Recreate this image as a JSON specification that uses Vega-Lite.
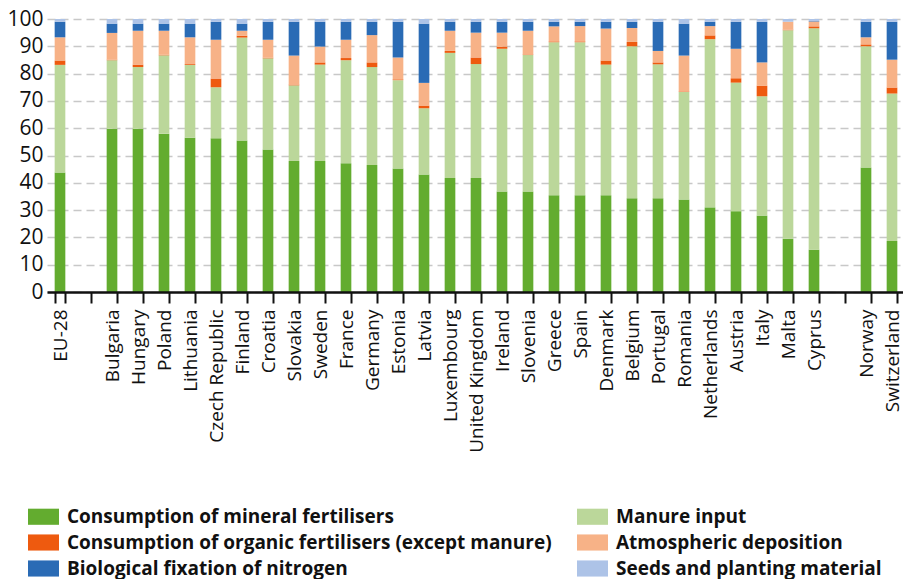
{
  "$schema": "https://vega.github.io/schema/vega-lite/v6.json",
  "autosize": "none",
  "padding": {"left": 47, "top": 19, "right": 0, "bottom": 287},
  "width": 858,
  "height": 273,
  "background": "white",
  "config": {
    "view": {"stroke": null},
    "font": "Open Sans"
  },
  "data": {
    "values": [
      {"c": "EU-28", "a_min": 43.8, "b_man": 39.4, "c_org": 1.6, "d_atm": 8.5, "e_bio": 5.7, "f_seed": 1.0},
      {"c": "Bulgaria", "a_min": 59.8, "b_man": 25.1, "c_org": 0.2, "d_atm": 9.8, "e_bio": 3.4, "f_seed": 1.7},
      {"c": "Hungary", "a_min": 59.8, "b_man": 22.6, "c_org": 0.9, "d_atm": 12.4, "e_bio": 2.6, "f_seed": 1.7},
      {"c": "Poland", "a_min": 58.0, "b_man": 28.7, "c_org": 0.2, "d_atm": 8.8, "e_bio": 2.6, "f_seed": 1.7},
      {"c": "Lithuania", "a_min": 56.5, "b_man": 26.7, "c_org": 0.3, "d_atm": 9.8, "e_bio": 5.0, "f_seed": 1.7},
      {"c": "Czech Republic", "a_min": 56.3, "b_man": 18.7, "c_org": 3.2, "d_atm": 14.2, "e_bio": 6.6, "f_seed": 1.0},
      {"c": "Finland", "a_min": 55.5, "b_man": 37.7, "c_org": 0.7, "d_atm": 1.8, "e_bio": 2.6, "f_seed": 1.7},
      {"c": "Croatia", "a_min": 52.2, "b_man": 33.4, "c_org": 0.2, "d_atm": 6.6, "e_bio": 6.6, "f_seed": 1.0},
      {"c": "Slovakia", "a_min": 48.0, "b_man": 27.7, "c_org": 0.3, "d_atm": 10.6, "e_bio": 12.4, "f_seed": 1.0},
      {"c": "Sweden", "a_min": 48.0, "b_man": 35.3, "c_org": 0.8, "d_atm": 5.8, "e_bio": 9.1, "f_seed": 1.0},
      {"c": "France", "a_min": 47.2, "b_man": 37.7, "c_org": 0.8, "d_atm": 6.7, "e_bio": 6.6, "f_seed": 1.0},
      {"c": "Germany", "a_min": 46.5, "b_man": 35.9, "c_org": 1.7, "d_atm": 10.0, "e_bio": 4.9, "f_seed": 1.0},
      {"c": "Estonia", "a_min": 45.2, "b_man": 32.4, "c_org": 0.3, "d_atm": 8.0, "e_bio": 13.1, "f_seed": 1.0},
      {"c": "Latvia", "a_min": 43.0, "b_man": 24.3, "c_org": 1.0, "d_atm": 8.3, "e_bio": 21.7, "f_seed": 1.7},
      {"c": "Luxembourg", "a_min": 41.8, "b_man": 45.8, "c_org": 0.7, "d_atm": 7.4, "e_bio": 3.3, "f_seed": 1.0},
      {"c": "United Kingdom", "a_min": 41.8, "b_man": 41.7, "c_org": 2.4, "d_atm": 9.1, "e_bio": 4.0, "f_seed": 1.0},
      {"c": "Ireland", "a_min": 36.8, "b_man": 52.3, "c_org": 0.8, "d_atm": 5.1, "e_bio": 4.0, "f_seed": 1.0},
      {"c": "Slovenia", "a_min": 36.8, "b_man": 50.0, "c_org": 0.2, "d_atm": 8.7, "e_bio": 3.3, "f_seed": 1.0},
      {"c": "Greece", "a_min": 35.4, "b_man": 56.1, "c_org": 0.3, "d_atm": 5.5, "e_bio": 1.7, "f_seed": 1.0},
      {"c": "Spain", "a_min": 35.4, "b_man": 56.1, "c_org": 0.3, "d_atm": 5.6, "e_bio": 1.6, "f_seed": 1.0},
      {"c": "Denmark", "a_min": 35.4, "b_man": 47.9, "c_org": 1.5, "d_atm": 11.7, "e_bio": 2.5, "f_seed": 1.0},
      {"c": "Belgium", "a_min": 34.3, "b_man": 55.7, "c_org": 1.6, "d_atm": 5.1, "e_bio": 2.3, "f_seed": 1.0},
      {"c": "Portugal", "a_min": 34.3, "b_man": 49.1, "c_org": 0.7, "d_atm": 4.2, "e_bio": 10.7, "f_seed": 1.0},
      {"c": "Romania", "a_min": 33.9, "b_man": 39.4, "c_org": 0.2, "d_atm": 13.1, "e_bio": 11.7, "f_seed": 1.7},
      {"c": "Netherlands", "a_min": 31.0, "b_man": 61.6, "c_org": 1.4, "d_atm": 3.4, "e_bio": 1.6, "f_seed": 1.0},
      {"c": "Austria", "a_min": 29.6, "b_man": 47.1, "c_org": 1.6, "d_atm": 10.8, "e_bio": 9.9, "f_seed": 1.0},
      {"c": "Italy", "a_min": 28.0, "b_man": 43.7, "c_org": 3.9, "d_atm": 8.5, "e_bio": 14.9, "f_seed": 1.0},
      {"c": "Malta", "a_min": 19.5, "b_man": 76.4, "c_org": 0.2, "d_atm": 2.9, "e_bio": 0.0, "f_seed": 1.0},
      {"c": "Cyprus", "a_min": 15.5, "b_man": 81.1, "c_org": 0.7, "d_atm": 1.8, "e_bio": 0.2, "f_seed": 0.7},
      {"c": "Norway", "a_min": 45.6, "b_man": 44.4, "c_org": 0.7, "d_atm": 2.6, "e_bio": 5.7, "f_seed": 1.0},
      {"c": "Switzerland", "a_min": 18.7, "b_man": 54.0, "c_org": 2.2, "d_atm": 10.2, "e_bio": 13.9, "f_seed": 1.0}
    ]
  },
  "transform": [
    {"fold": ["a_min", "b_man", "c_org", "d_atm", "e_bio", "f_seed"], "as": ["src", "pct"]}
  ],
  "mark": {"type": "bar"},
  "encoding": {
    "x": {
      "field": "c",
      "type": "nominal",
      "title": null,
      "scale": {
        "domain": ["EU-28", "gap1", "Bulgaria", "Hungary", "Poland", "Lithuania", "Czech Republic", "Finland", "Croatia", "Slovakia", "Sweden", "France", "Germany", "Estonia", "Latvia", "Luxembourg", "United Kingdom", "Ireland", "Slovenia", "Greece", "Spain", "Denmark", "Belgium", "Portugal", "Romania", "Netherlands", "Austria", "Italy", "Malta", "Cyprus", "gap2", "Norway", "Switzerland"],
        "paddingInner": 0.59,
        "paddingOuter": 0.295
      },
      "axis": {
        "labelExpr": "indexof(datum.label, 'gap') == 0 ? '' : datum.label",
        "labelAngle": -90,
        "labelAlign": "right",
        "labelBaseline": "middle",
        "labelFont": "Open Sans",
        "labelFontSize": 19,
        "labelColor": "#111111",
        "labelPadding": 6,
        "labelLimit": 300,
        "tickBand": "extent",
        "tickSize": 11,
        "tickWidth": 2,
        "tickColor": "#111111",
        "domainColor": "#111111",
        "domainWidth": 2.5,
        "grid": false,
        "zindex": 1
      }
    },
    "y": {
      "field": "pct",
      "type": "quantitative",
      "stack": "zero",
      "title": null,
      "scale": {"domain": [0, 100], "nice": false},
      "axis": {
        "values": [0, 10, 20, 30, 40, 50, 60, 70, 80, 90, 100],
        "domain": false,
        "ticks": false,
        "labelFont": "Open Sans",
        "labelFontSize": 21,
        "labelColor": "#111111",
        "labelPadding": 4,
        "grid": true,
        "gridColor": "#c8c8c8",
        "gridWidth": 1.5,
        "gridDash": [8, 5]
      }
    },
    "color": {
      "field": "src",
      "type": "nominal",
      "scale": {
        "domain": ["a_min", "b_man", "c_org", "d_atm", "e_bio", "f_seed"],
        "range": ["#63ac2f", "#bbd79a", "#ee5a0f", "#f7b287", "#2a6bb5", "#adc3e7"]
      },
      "legend": {
        "orient": "none",
        "legendX": -19,
        "legendY": 482,
        "title": null,
        "columns": 2,
        "direction": "horizontal",
        "symbolType": "M-1,-0.52L1,-0.52L1,0.52L-1,0.52Z",
        "symbolSize": 961,
        "symbolStrokeWidth": 0,
        "symbolOpacity": 1,
        "labelFont": "Open Sans",
        "labelFontWeight": "bold",
        "labelFontSize": 19,
        "labelColor": "#111111",
        "labelOffset": 8,
        "labelLimit": 600,
        "rowPadding": -6,
        "columnPadding": 25,
        "labelExpr": "{'a_min': 'Consumption of mineral fertilisers', 'b_man': 'Manure input', 'c_org': 'Consumption of organic fertilisers (except manure)', 'd_atm': 'Atmospheric deposition', 'e_bio': 'Biological fixation of nitrogen', 'f_seed': 'Seeds and planting material'}[datum.label]"
      }
    },
    "order": {"field": "src", "sort": "ascending"}
  }
}
